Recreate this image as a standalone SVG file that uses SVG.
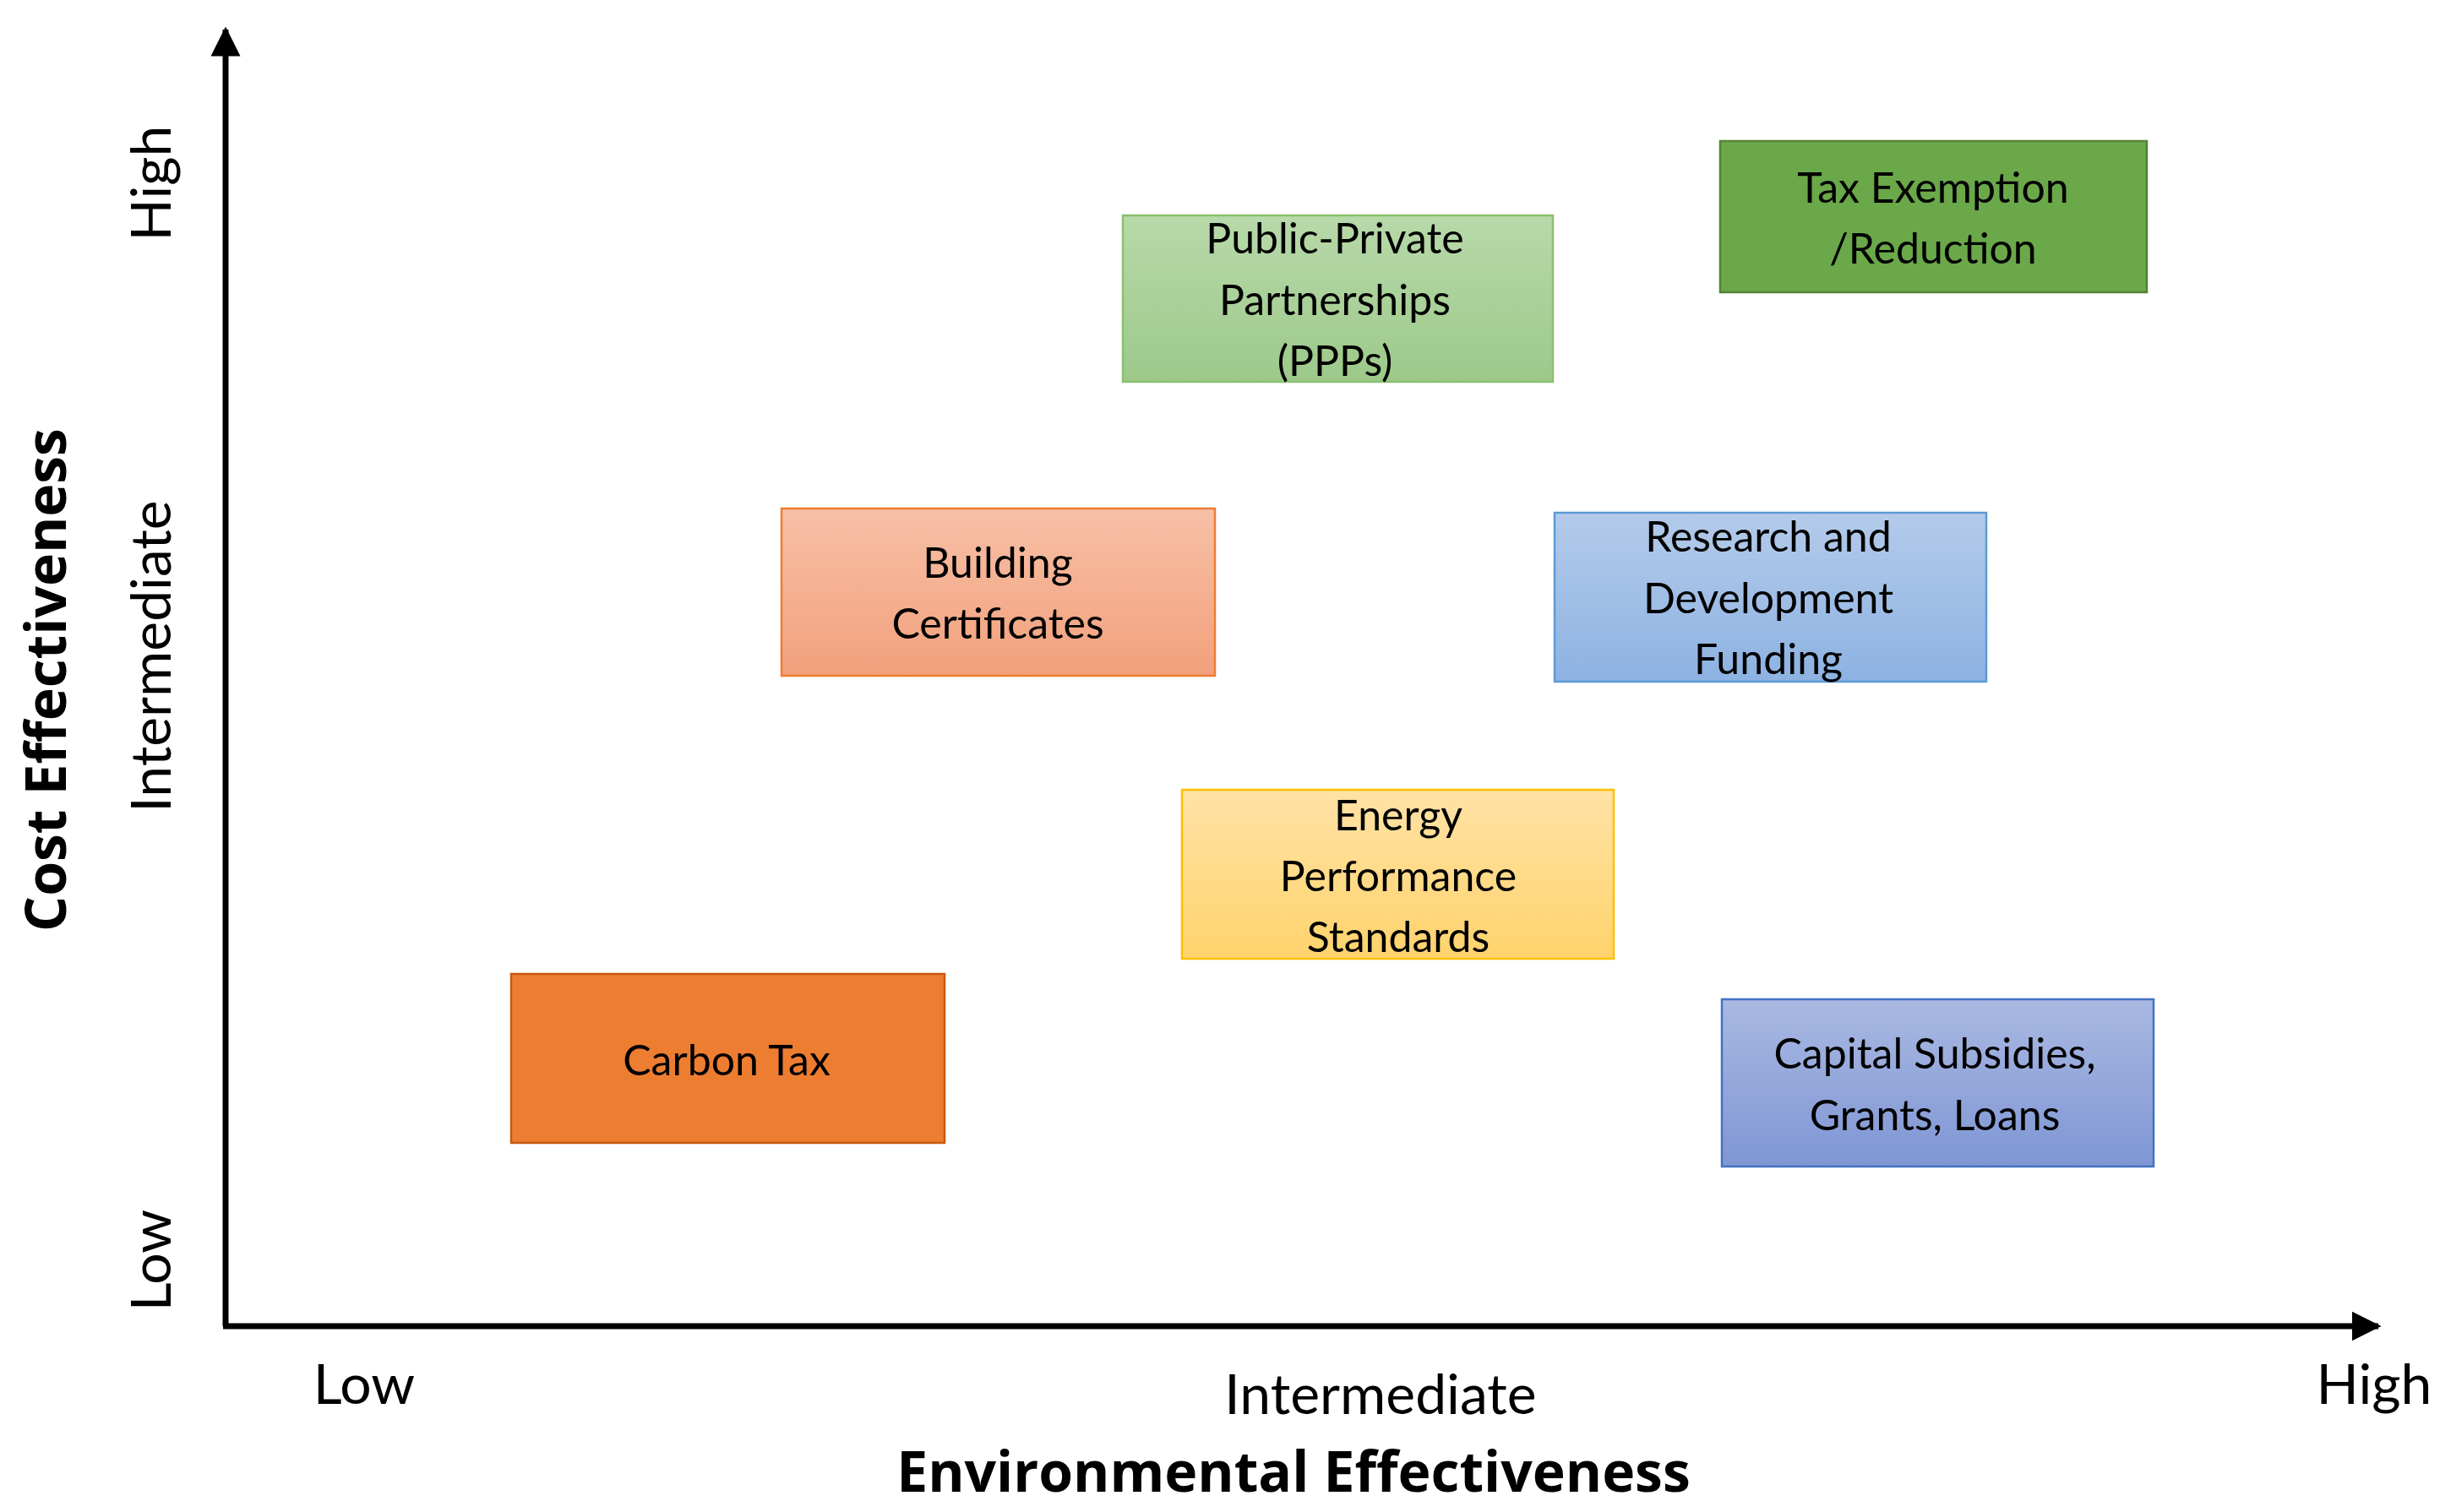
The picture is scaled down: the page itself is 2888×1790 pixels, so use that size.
<svg xmlns="http://www.w3.org/2000/svg" width="2888" height="1790" viewBox="0 0 2888 1790">
<style>
.t{font-family:Lato,"Open Sans",sans-serif;font-size:50px;fill:#000;text-anchor:middle;dominant-baseline:central}
.a{font-family:Lato,"Open Sans",sans-serif;font-size:66px;fill:#000;text-anchor:middle;dominant-baseline:central}
.b{font-family:"Open Sans",Lato,sans-serif;font-weight:bold;font-size:66px;fill:#000;text-anchor:middle;dominant-baseline:central}
rect{stroke-width:2.5}
</style>
<defs>
<linearGradient id="g1" x1="0" y1="0" x2="0" y2="1"><stop offset="0" stop-color="#b8d9aa"/><stop offset="1" stop-color="#9cc98a"/></linearGradient>
<linearGradient id="g2" x1="0" y1="0" x2="0" y2="1"><stop offset="0" stop-color="#f7c0a6"/><stop offset="1" stop-color="#f2a07c"/></linearGradient>
<linearGradient id="g3" x1="0" y1="0" x2="0" y2="1"><stop offset="0" stop-color="#b4cbea"/><stop offset="1" stop-color="#8db2e2"/></linearGradient>
<linearGradient id="g4" x1="0" y1="0" x2="0" y2="1"><stop offset="0" stop-color="#ffe2a6"/><stop offset="1" stop-color="#ffd36c"/></linearGradient>
<linearGradient id="g5" x1="0" y1="0" x2="0" y2="1"><stop offset="0" stop-color="#a9b9e2"/><stop offset="1" stop-color="#7f96d4"/></linearGradient>
<marker id="ar" viewBox="0 0 10 10" refX="9" refY="5" markerWidth="5" markerHeight="5" orient="auto"><path d="M0,0 L10,5 L0,10 z" fill="#000"/></marker>
</defs>
<rect width="2888" height="1790" fill="#fff"/>
<g id="connectors" stroke="#000" stroke-width="7" fill="none">
<line x1="267" y1="1570" x2="267" y2="35" marker-end="url(#ar)"/>
<line x1="264" y1="1570" x2="2815" y2="1570" marker-end="url(#ar)"/>
</g>
<g id="labels">
<text class="a" transform="translate(176,217) rotate(-90)">High</text>
<text class="a" transform="translate(176,777) rotate(-90)">Intermediate</text>
<text class="a" transform="translate(176,1492) rotate(-90)">Low</text>
<text class="b" transform="translate(52,805) rotate(-90)">Cost  Effectiveness</text>
<text class="a" x="431" y="1636">Low</text>
<text class="a" x="1634" y="1648">Intermediate</text>
<text class="a" x="2810" y="1636">High</text>
<text class="b" x="1531" y="1740">Environmental Effectiveness</text>
</g>
<g id="ppp"><rect x="1329" y="255" width="509" height="197" fill="url(#g1)" stroke="#8bc06f"/>
<text class="t" x="1580" y="281">Public-Private</text><text class="t" x="1580" y="354">Partnerships</text><text class="t" x="1580" y="426">(PPPs)</text></g>
<g id="tax"><rect x="2036" y="167" width="505" height="179" fill="#6aa84a" stroke="#548235"/>
<text class="t" x="2288" y="221">Tax Exemption</text><text class="t" x="2288" y="293">/Reduction</text></g>
<g id="building"><rect x="925" y="602" width="513" height="198" fill="url(#g2)" stroke="#ed7d31"/>
<text class="t" x="1181" y="665">Building</text><text class="t" x="1181" y="737">Certificates</text></g>
<g id="rnd"><rect x="1840" y="607" width="511" height="200" fill="url(#g3)" stroke="#5b9bd5"/>
<text class="t" x="2093" y="634">Research and</text><text class="t" x="2093" y="707">Development</text><text class="t" x="2093" y="779">Funding</text></g>
<g id="energy"><rect x="1399" y="935" width="511" height="200" fill="url(#g4)" stroke="#ffc000"/>
<text class="t" x="1655" y="964">Energy</text><text class="t" x="1655" y="1036">Performance</text><text class="t" x="1655" y="1108">Standards</text></g>
<g id="carbon"><rect x="605" y="1153" width="513" height="200" fill="#ed7d31" stroke="#c55a11"/>
<text class="t" x="860" y="1254">Carbon Tax</text></g>
<g id="capital"><rect x="2038" y="1183" width="511" height="198" fill="url(#g5)" stroke="#4472c4"/>
<text class="t" x="2290" y="1246">Capital Subsidies,</text><text class="t" x="2290" y="1319">Grants, Loans</text></g>
</svg>
